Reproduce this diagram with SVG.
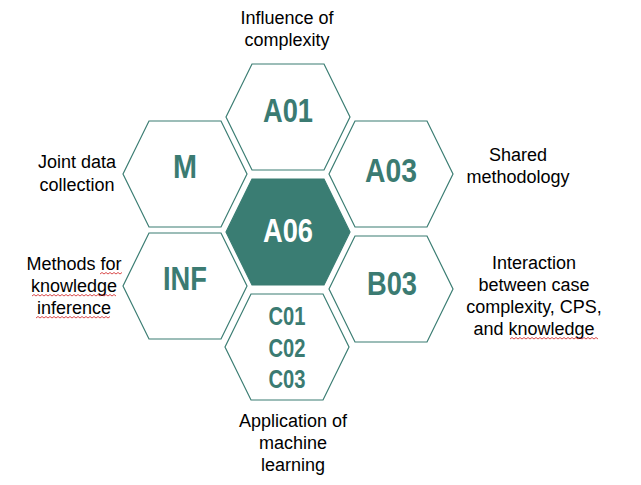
<svg xmlns="http://www.w3.org/2000/svg" width="641" height="485" viewBox="0 0 641 485">
<style>
.hex{fill:#ffffff;stroke:#3b7d73;stroke-width:1.2}
.hexf{fill:#3a7d73;stroke:#3a7d73;stroke-width:1.2}
.code{font-family:"Liberation Sans Narrow","Liberation Sans",Arial,sans-serif;font-weight:bold;font-size:33px;fill:#3b7b72;text-anchor:middle}
.codes{font-family:"Liberation Sans Narrow","Liberation Sans",Arial,sans-serif;font-weight:bold;font-size:26px;fill:#3b7b72;text-anchor:middle}
.lbl{font-family:"Liberation Sans",Arial,sans-serif;font-size:18px;fill:#000;text-anchor:middle}
.sq{fill:none;stroke:#d02020;stroke-width:0.8}
</style>
<defs>
<polygon id="hx" points="-62,0 -36,-53 36,-53 62,0 36,53 -36,53"/>
</defs>
<g id="node-A01"><use href="#hx" class="hex" x="288" y="117"/><text class="code" x="288" y="122" textLength="50" lengthAdjust="spacingAndGlyphs">A01</text></g>
<g id="node-M"><use href="#hx" class="hex" x="185" y="174"/><text class="code" x="185" y="178" textLength="24" lengthAdjust="spacingAndGlyphs">M</text></g>
<g id="node-A03"><use href="#hx" class="hex" x="391" y="174"/><text class="code" x="391" y="182" textLength="52" lengthAdjust="spacingAndGlyphs">A03</text></g>
<g id="node-A06"><use href="#hx" class="hexf" x="288" y="232"/><text class="code" x="288" y="242" textLength="50" lengthAdjust="spacingAndGlyphs" style="fill:#ffffff">A06</text></g>
<g id="node-INF"><use href="#hx" class="hex" x="185" y="286"/><text class="code" x="185" y="290" textLength="44" lengthAdjust="spacingAndGlyphs">INF</text></g>
<g id="node-B03"><use href="#hx" class="hex" x="391" y="289"/><text class="code" x="392" y="295" textLength="50" lengthAdjust="spacingAndGlyphs">B03</text></g>
<g id="node-C"><use href="#hx" class="hex" x="287" y="347"/>
<text class="codes" x="287" y="325" textLength="37" lengthAdjust="spacingAndGlyphs">C01</text>
<text class="codes" x="287" y="357" textLength="37" lengthAdjust="spacingAndGlyphs">C02</text>
<text class="codes" x="287" y="388" textLength="37" lengthAdjust="spacingAndGlyphs">C03</text></g>
<g id="connectors"></g>
<g id="labels">
<text class="lbl" x="287" y="24">Influence of</text>
<text class="lbl" x="287" y="46">complexity</text>
<text class="lbl" x="77" y="168">Joint data</text>
<text class="lbl" x="77" y="191">collection</text>
<text class="lbl" x="518" y="161">Shared</text>
<text class="lbl" x="518" y="183">methodology</text>
<text class="lbl" x="74" y="270">Methods for</text>
<text class="lbl" x="74" y="292">knowledge</text>
<text class="lbl" x="74" y="314">inference</text>
<text class="lbl" x="534" y="269">Interaction</text>
<text class="lbl" x="534" y="291">between case</text>
<text class="lbl" x="534" y="313">complexity, CPS,</text>
<text class="lbl" x="534" y="335">and knowledge</text>
<text class="lbl" x="293" y="427">Application of</text>
<text class="lbl" x="293" y="449">machine</text>
<text class="lbl" x="293" y="471">learning</text>
</g>
<g id="squiggles">
<path class="sq" d="M100,274 l2,-1.5 l2,1.5 l2,-1.5 l2,1.5 l2,-1.5 l2,1.5 l2,-1.5 l2,1.5 l2,-1.5 l2,1.5 l2,-1.5"/>
<path class="sq" d="M32,296 l2,-1.5 l2,1.5 l2,-1.5 l2,1.5 l2,-1.5 l2,1.5 l2,-1.5 l2,1.5 l2,-1.5 l2,1.5 l2,-1.5 l2,1.5 l2,-1.5 l2,1.5 l2,-1.5 l2,1.5 l2,-1.5 l2,1.5 l2,-1.5 l2,1.5 l2,-1.5 l2,1.5 l2,-1.5 l2,1.5 l2,-1.5 l2,1.5 l2,-1.5 l2,1.5 l2,-1.5 l2,1.5 l2,-1.5 l2,1.5 l2,-1.5 l2,1.5 l2,-1.5 l2,1.5 l2,-1.5 l2,1.5 l2,-1.5 l2,1.5 l2,-1.5 l2,1.5"/>
<path class="sq" d="M36,318 l2,-1.5 l2,1.5 l2,-1.5 l2,1.5 l2,-1.5 l2,1.5 l2,-1.5 l2,1.5 l2,-1.5 l2,1.5 l2,-1.5 l2,1.5 l2,-1.5 l2,1.5 l2,-1.5 l2,1.5 l2,-1.5 l2,1.5 l2,-1.5 l2,1.5 l2,-1.5 l2,1.5 l2,-1.5 l2,1.5 l2,-1.5 l2,1.5 l2,-1.5 l2,1.5 l2,-1.5 l2,1.5 l2,-1.5 l2,1.5 l2,-1.5 l2,1.5 l2,-1.5 l2,1.5 l2,-1.5"/>
<path class="sq" d="M510,339 l2,-1.5 l2,1.5 l2,-1.5 l2,1.5 l2,-1.5 l2,1.5 l2,-1.5 l2,1.5 l2,-1.5 l2,1.5 l2,-1.5 l2,1.5 l2,-1.5 l2,1.5 l2,-1.5 l2,1.5 l2,-1.5 l2,1.5 l2,-1.5 l2,1.5 l2,-1.5 l2,1.5 l2,-1.5 l2,1.5 l2,-1.5 l2,1.5 l2,-1.5 l2,1.5 l2,-1.5 l2,1.5 l2,-1.5 l2,1.5 l2,-1.5 l2,1.5 l2,-1.5 l2,1.5 l2,-1.5 l2,1.5 l2,-1.5 l2,1.5 l2,-1.5 l2,1.5 l2,-1.5 l2,1.5"/>
</g>
</svg>
